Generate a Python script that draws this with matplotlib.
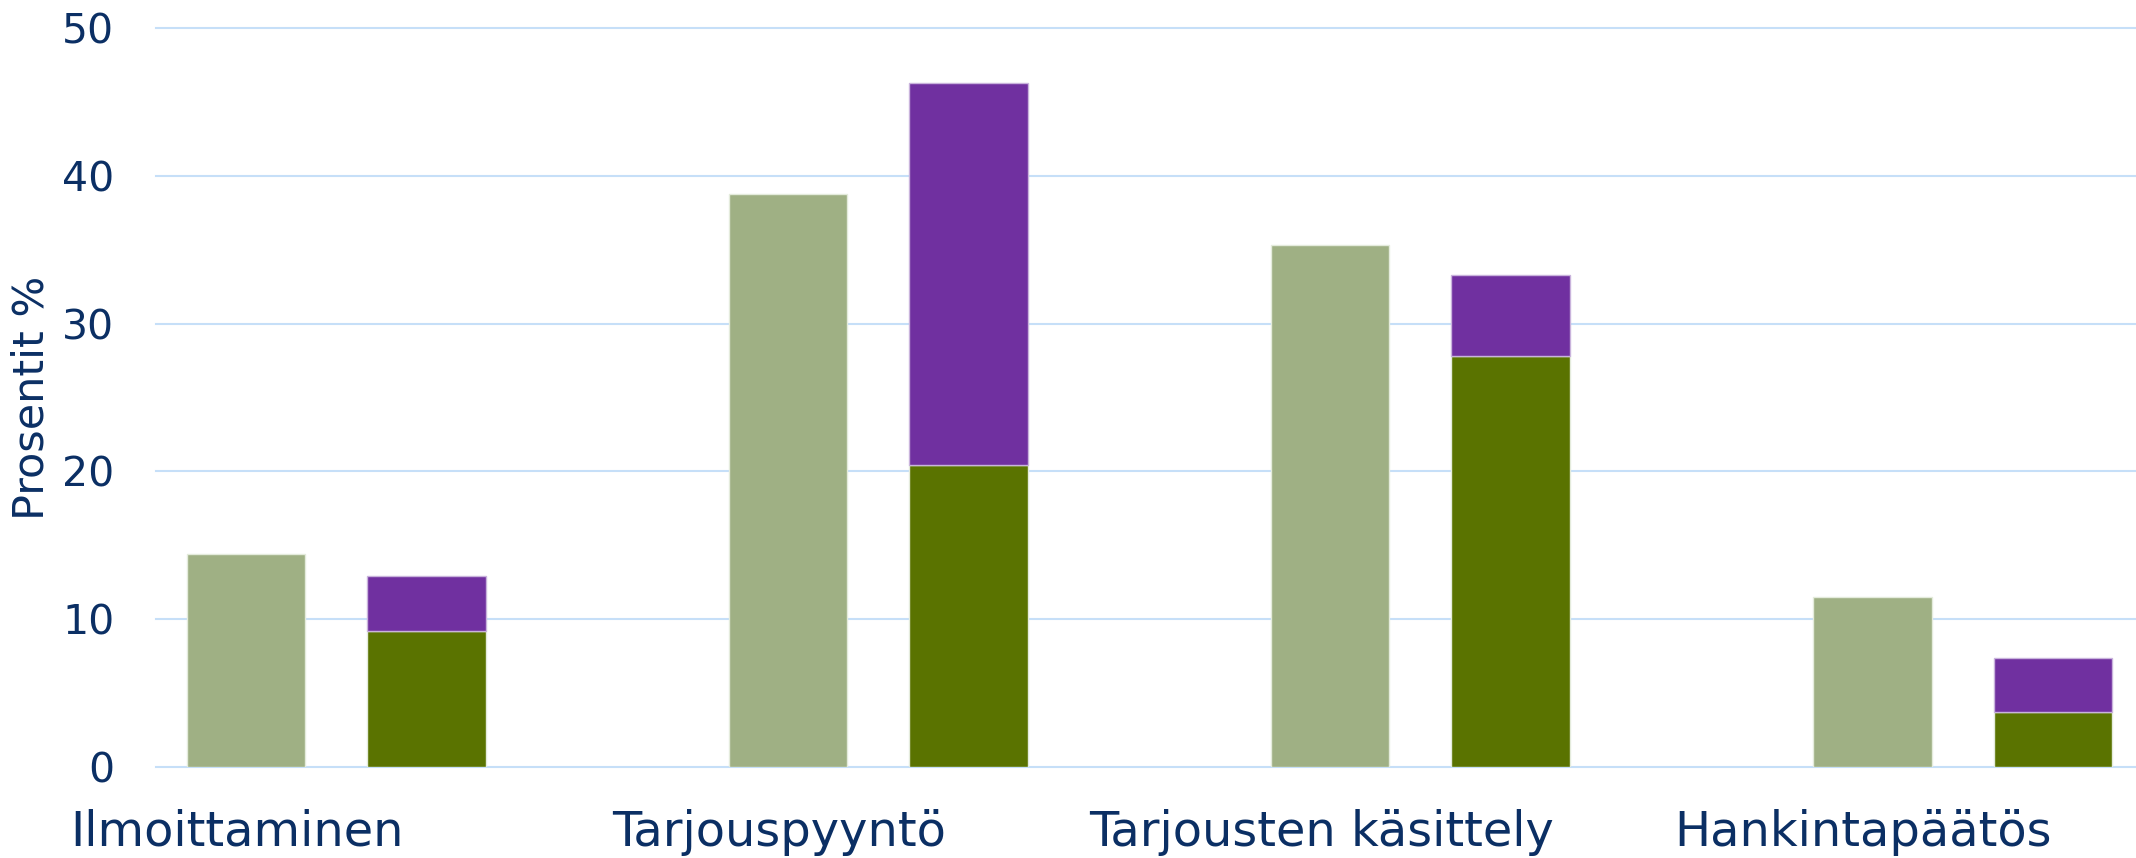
import matplotlib
matplotlib.use('Agg')
import matplotlib.pyplot as plt
import numpy as np

# data (percent)
categories = ['Ilmoittaminen', 'Tarjouspyyntö', 'Tarjousten käsittely', 'Hankintapäätös']
series_a = [14.4, 38.8, 35.3, 11.5]        # light green bars
series_b_base = [9.2, 20.4, 27.8, 3.7]     # dark green part of stacked bars
series_b_top = [3.7, 25.9, 5.5, 3.7]       # purple part on top
yticks = [0, 10, 20, 30, 40, 50]

text_col = '#0B2F64'
grid_col = '#C6DFF8'
light_green = '#9FB084'
dark_green = '#5A7300'
purple = '#7030A0'

W, H = 2136, 858
fig = plt.figure(figsize=(W / 100, H / 100), dpi=100)
ax = fig.add_axes([156 / W, (H - 767) / H, (W - 156) / W, (767 - 28) / H])

x = np.arange(len(categories))
bw = 0.219
off = 0.1667
ax.bar(x - off, series_a, bw, color=light_green, edgecolor='#e4ebdc', linewidth=1, zorder=3)
ax.bar(x + off, series_b_base, bw, color=dark_green, edgecolor='#e4ebdc', linewidth=1, zorder=3)
ax.bar(x + off, series_b_top, bw, bottom=series_b_base, color=purple,
       edgecolor='#c9b3dc', linewidth=1, zorder=3)

ax.set_xlim(-0.3327, 3.32)
ax.set_ylim(0, 50)
ax.set_yticks(yticks)
ax.set_yticklabels([str(v) for v in yticks], fontsize=29.5, color=text_col)
ax.set_xticks(x - 0.183)
ax.set_xticklabels(categories, fontsize=34.5, color=text_col)
ax.tick_params(axis='both', length=0)
ax.tick_params(axis='y', pad=30)
ax.tick_params(axis='x', pad=30)

ax.yaxis.grid(True, color=grid_col, linewidth=1.5, zorder=0)
for gl in ax.get_ygridlines():
    gl.set_clip_on(False)
ax.set_axisbelow(True)
for s in ax.spines.values():
    s.set_visible(False)

ax.set_ylabel('Prosentit %', fontsize=31, color=text_col)
ax.yaxis.set_label_coords(-0.0525, 0.50)

fig.savefig('out.png', dpi=100)
